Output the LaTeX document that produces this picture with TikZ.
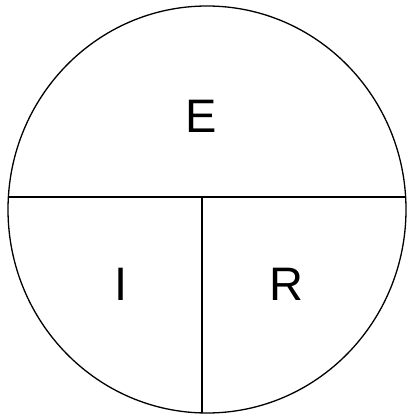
\documentclass[tikz,border=0pt]{standalone}
\usepackage{fontspec}
\setmainfont{Liberation Sans}
\begin{document}
\begin{tikzpicture}[x=1pt,y=-1pt]
            \useasboundingbox (0,0) rectangle (408,414);
            \tikzset{part/.style={font=\fontsize{47}{50}\selectfont,inner sep=0pt}}

            \draw[line width=1.3pt] (207,209.5) ellipse [x radius=199, y radius=203.5];
            \coordinate (west) at (8.4,197);
            \coordinate (east) at (405.6,197);
            \coordinate (mid) at (202,197);
            \coordinate (bottom) at (202,413);
            \draw[line width=1.3pt] (west)--(east);
            \draw[line width=1.3pt] (mid)--(bottom);

            \node[part] (e) at (201,116.5) {E};
            \node[part] (i) at (121,284) {I};
            \node[part] (r) at (286,284) {R};
        \end{tikzpicture}
\end{document}
